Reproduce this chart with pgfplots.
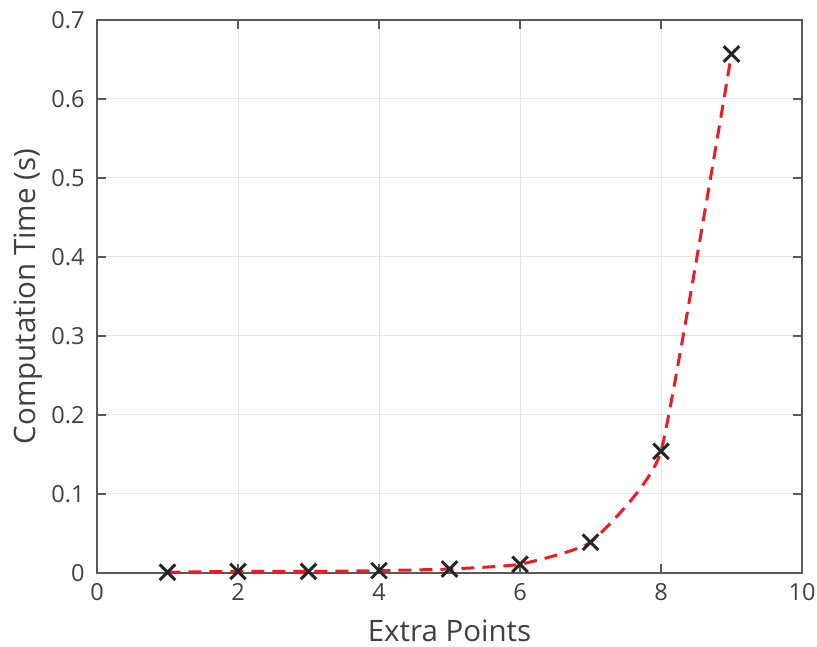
\documentclass[border=0pt]{standalone}
\usepackage{fontspec}
\setmainfont{Open Sans}
\usepackage{pgfplots}
\pgfplotsset{compat=1.18}
\definecolor{mred}{RGB}{237,28,36}
\definecolor{txt}{RGB}{64,64,64}
\begin{document}
\begin{tikzpicture}
\begin{axis}[
 scale only axis, width=705pt, height=553pt,
 xmin=0,xmax=10,ymin=0,ymax=0.7,
 xtick={0,2,4,6,8,10}, ytick={0,0.1,0.2,0.3,0.4,0.5,0.6,0.7},
 grid=major, grid style={line width=1pt, color=black!10},
 axis line style={line width=1.2pt, color=black!65},
 tick style={line width=1.2pt, color=black!65},
 tick align=inside, major tick length=9pt,
 ticklabel style={font=\fontsize{23.5}{24}\selectfont, text=txt},
 /pgf/number format/assume math mode=true,
 yticklabel style={/pgf/number format/fixed, /pgf/number format/precision=1},
 xlabel={Extra Points}, ylabel={Computation Time (s)},
 label style={font=\fontsize{29.5}{30}\selectfont, text=txt},
 xticklabel shift=7pt, yticklabel shift=9pt,
 xlabel shift=12pt, ylabel shift=2pt,
 clip=false,
]
\addplot[mred, line width=3pt, dash pattern=on 13pt off 8pt, smooth, tension=0.25] coordinates {
(1,0.001) (2,0.002) (3,0.002) (4,0.003) (5,0.005) (6,0.011) (7,0.039) (8,0.154) (9,0.657)};
\addplot[only marks, mark=x, mark size=11pt, black!85, mark options={line width=3pt}] coordinates {
(1,0.001) (2,0.002) (3,0.002) (4,0.003) (5,0.005) (6,0.011) (7,0.039) (8,0.154) (9,0.657)};
\end{axis}
\pgfresetboundingbox
\path ([shift={(-97pt,-74pt)}]current axis.south west) rectangle ([shift={(15pt,20pt)}]current axis.north east);
\end{tikzpicture}
\end{document}
